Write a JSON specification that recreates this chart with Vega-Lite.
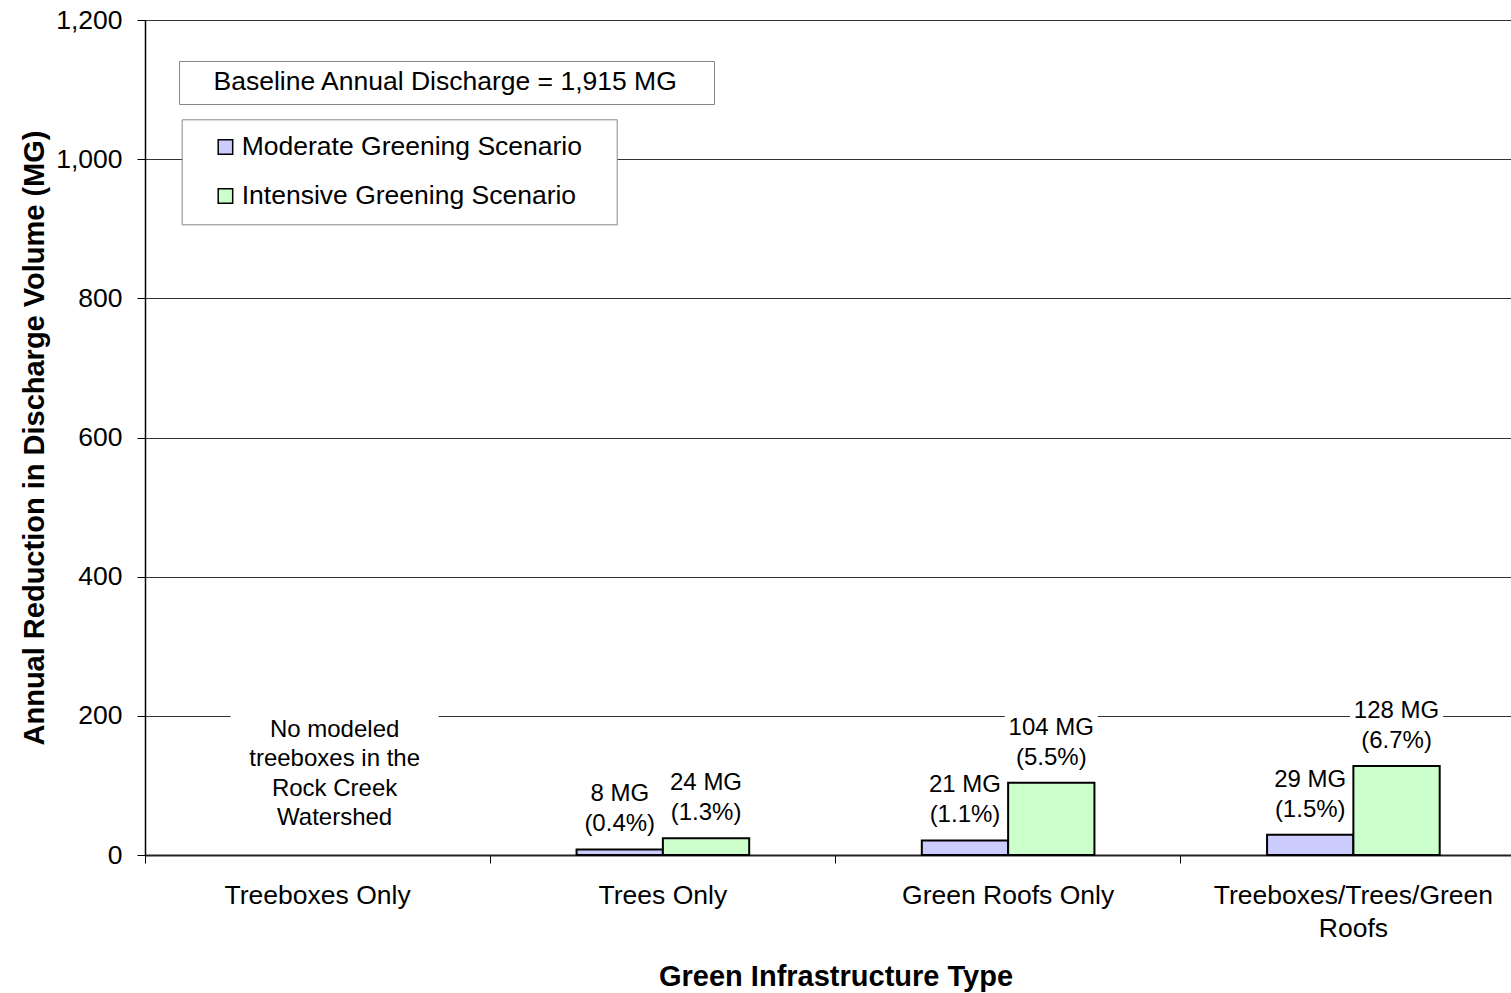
{
  "$schema": "https://vega.github.io/schema/vega-lite/v6.json",
  "width": 1366,
  "height": 835,
  "autosize": {"type": "none"},
  "padding": {"left": 145, "top": 20, "right": 0, "bottom": 138},
  "background": "white",
  "config": {
    "font": "Liberation Sans",
    "view": {"stroke": null},
    "axis": {"labelColor": "black", "titleColor": "black", "labelFont": "Liberation Sans", "titleFont": "Liberation Sans"},
    "legend": {"labelFont": "Liberation Sans", "labelColor": "black"}
  },
  "datasets": {
    "bars": [
      {"type": "Trees Only", "scenario": "Moderate Greening Scenario", "value": 8, "label": "8 MG\n(0.4%)"},
      {"type": "Trees Only", "scenario": "Intensive Greening Scenario", "value": 24, "label": "24 MG\n(1.3%)"},
      {"type": "Green Roofs Only", "scenario": "Moderate Greening Scenario", "value": 21, "label": "21 MG\n(1.1%)"},
      {"type": "Green Roofs Only", "scenario": "Intensive Greening Scenario", "value": 104, "label": "104 MG\n(5.5%)"},
      {"type": "Treeboxes/Trees/Green Roofs", "scenario": "Moderate Greening Scenario", "value": 29, "label": "29 MG\n(1.5%)"},
      {"type": "Treeboxes/Trees/Green Roofs", "scenario": "Intensive Greening Scenario", "value": 128, "label": "128 MG\n(6.7%)"}
    ],
    "notes": [
      {"type": "Treeboxes Only", "note": "No modeled\ntreeboxes in the\nRock Creek\nWatershed"}
    ],
    "baseline": [
      {"label": "Baseline Annual Discharge = 1,915 MG", "discharge": 1915}
    ]
  },
  "layer": [
    {
      "data": {"name": "bars"},
      "mark": {"type": "bar", "stroke": "black", "strokeWidth": 2},
      "encoding": {
        "x": {
          "field": "type", "type": "nominal",
          "sort": ["Treeboxes Only", "Trees Only", "Green Roofs Only", "Treeboxes/Trees/Green Roofs"],
          "scale": {"domain": ["Treeboxes Only", "Trees Only", "Green Roofs Only", "Treeboxes/Trees/Green Roofs"], "range": [0, 1381], "paddingInner": 0.5, "paddingOuter": 0.25},
          "axis": {
            "title": "Green Infrastructure Type",
            "titleFontSize": 29, "titleFontWeight": "bold", "titleY": 130, "titleBaseline": "alphabetic",
            "labelAngle": 0, "labelFontSize": 26.5, "labelPadding": 19, "labelLineHeight": 33.5,
            "labelExpr": "datum.value == 'Treeboxes/Trees/Green Roofs' ? ['Treeboxes/Trees/Green', 'Roofs'] : datum.value",
            "labelLimit": 0,
            "bandPosition": -0.5,
            "tickSize": 8, "tickColor": "black", "tickWidth": 1,
            "domainColor": "#222", "domainWidth": 2,
            "grid": false
          }
        },
        "xOffset": {"field": "scenario", "type": "nominal", "scale": {"domain": ["Moderate Greening Scenario", "Intensive Greening Scenario"], "paddingInner": 0, "paddingOuter": 0}},
        "y": {
          "field": "value", "type": "quantitative",
          "scale": {"domain": [0, 1200], "nice": false},
          "axis": {
            "title": "Annual Reduction in Discharge Volume (MG)",
            "titleFontSize": 29, "titleFontWeight": "bold", "titleX": -102, "titleBaseline": "alphabetic", "titleAngle": -90,
            "values": [0, 200, 400, 600, 800, 1000, 1200], "format": ",d",
            "labelFontSize": 26.5, "labelPadding": 15,
            "tickSize": 8, "tickColor": "black",
            "domainColor": "black", "domainWidth": 1.5,
            "grid": true, "gridColor": "#333", "gridWidth": 1
          }
        },
        "color": {
          "field": "scenario", "type": "nominal",
          "scale": {"domain": ["Moderate Greening Scenario", "Intensive Greening Scenario"], "range": ["#CCCCFF", "#CCFFCC"]},
          "legend": {
            "title": null, "orient": "none", "legendX": 36.7, "legendY": 99.3,
            "padding": 14.5, "rowPadding": 22,
            "symbolType": "square", "symbolSize": 210, "symbolStrokeColor": "black", "symbolStrokeWidth": 1.5, "symbolOffset": 16,
            "labelOffset": 3, "labelFontSize": 26.5, "labelLimit": 0,
            "labelExpr": "datum.label + '\u00a0\u00a0\u2009\u200b'",
            "strokeColor": "#888", "fillColor": "white"
          }
        }
      }
    },
    {
      "data": {"name": "bars"},
      "transform": [{"filter": "datum.scenario == 'Intensive Greening Scenario'"}],
      "mark": {"type": "point", "shape": "M-1,-0.634H1V0.634H-1Z", "size": 8649, "filled": true, "color": "white", "opacity": 1, "strokeWidth": 0, "yOffset": -40.5},
      "encoding": {
        "x": {"field": "type", "type": "nominal"},
        "xOffset": {"field": "scenario", "type": "nominal"},
        "y": {"field": "value", "type": "quantitative"}
      }
    },
    {
      "data": {"name": "bars"},
      "mark": {"type": "text", "fontSize": 24, "lineHeight": 30, "lineBreak": "\n", "baseline": "alphabetic", "align": "center", "dy": -48, "color": "black"},
      "encoding": {
        "x": {"field": "type", "type": "nominal"},
        "xOffset": {"field": "scenario", "type": "nominal"},
        "y": {"field": "value", "type": "quantitative"},
        "text": {"field": "label", "type": "nominal"}
      }
    },
    {
      "data": {"name": "notes"},
      "mark": {"type": "point", "shape": "M-1,-0.625H1V0.625H-1Z", "size": 43264, "filled": true, "color": "white", "opacity": 1, "strokeWidth": 0, "xOffset": 17, "yOffset": -85},
      "encoding": {
        "x": {"field": "type", "type": "nominal"},
        "y": {"datum": 0, "type": "quantitative"}
      }
    },
    {
      "data": {"name": "notes"},
      "mark": {"type": "text", "fontSize": 24, "lineHeight": 29.5, "lineBreak": "\n", "baseline": "alphabetic", "align": "center", "dx": 17, "dy": -118.5, "color": "black"},
      "encoding": {
        "x": {"field": "type", "type": "nominal"},
        "y": {"datum": 0, "type": "quantitative"},
        "text": {"field": "note", "type": "nominal"}
      }
    },
    {
      "data": {"name": "baseline"},
      "mark": {"type": "point", "opacity": 0},
      "encoding": {
        "shape": {
          "field": "label", "type": "nominal",
          "legend": {
            "title": null, "orient": "none", "legendX": 34, "legendY": 41,
            "padding": 8, "symbolSize": 0, "symbolOpacity": 0, "symbolOffset": 0, "labelOffset": 0,
            "labelFontSize": 26.5, "labelLimit": 0,
            "labelExpr": "datum.label + '\u00a0\u00a0\u00a0\u2009\u200b'",
            "strokeColor": "#888", "fillColor": "white"
          }
        }
      }
    }
  ]
}
